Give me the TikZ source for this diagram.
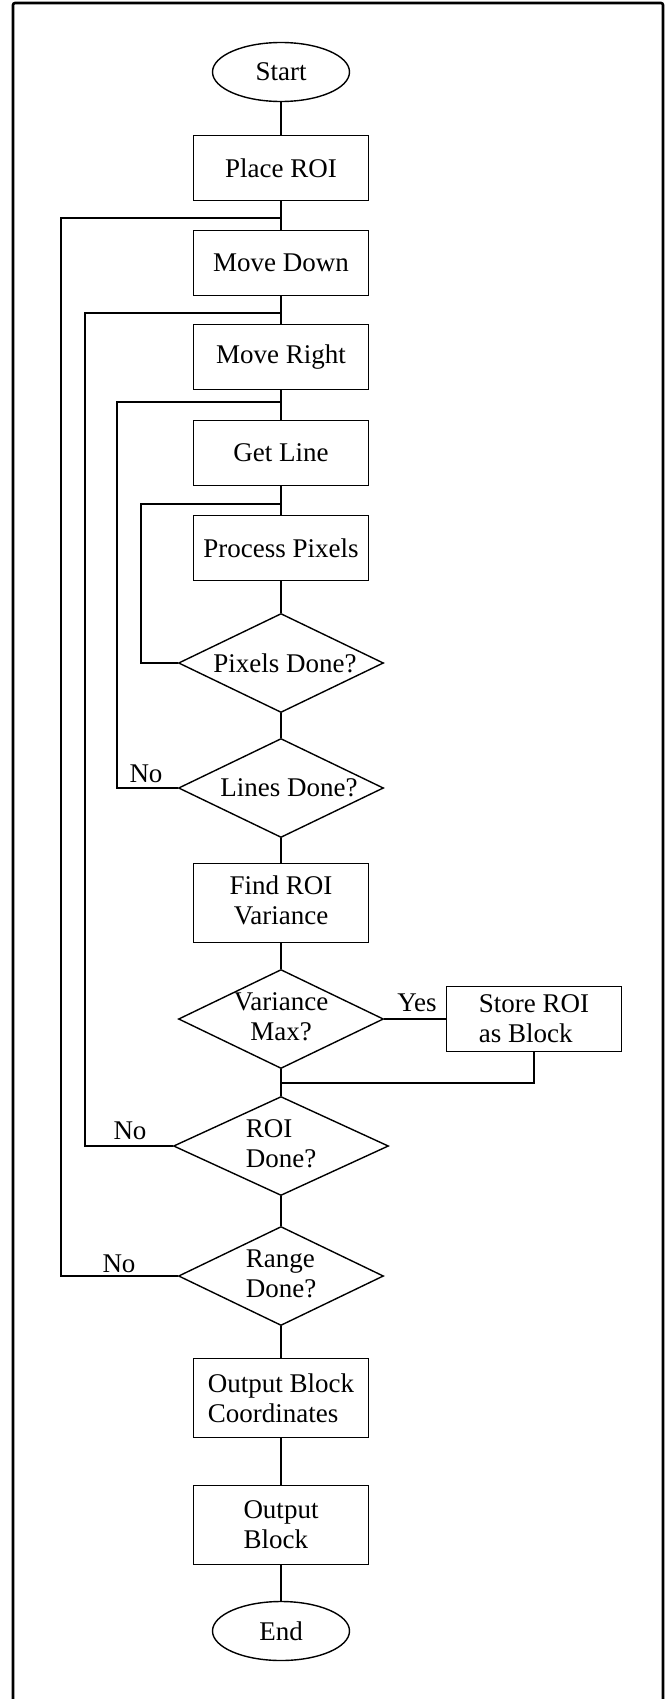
\documentclass[tikz,border=0pt]{standalone}
\usepackage{fontspec}
\setmainfont{Liberation Serif}
\usetikzlibrary{shapes.geometric}
\begin{document}
\begin{tikzpicture}[x=1pt,y=-1pt,
  every node/.style={font=\fontsize{27}{30}\selectfont, inner sep=0pt},
  proc/.style={draw, line width=1.4pt, rectangle, minimum width=175pt, minimum height=65pt, align=left},
  proctall/.style={proc, minimum height=79pt},
  term/.style={draw, line width=1.4pt, ellipse, minimum width=137pt, minimum height=59pt},
  decision/.style={draw, line width=1.4pt, diamond, minimum width=205pt, minimum height=99pt},
  link/.style={line width=1.3pt},
  frameline/.style={line width=2.6pt, rounded corners=2pt}
]
\useasboundingbox (0,0) rectangle (670,1699);

% outer frame, open at the bottom
\draw[frameline] (13,1699) -- (13,3) -- (663,3) -- (663,1699);

% main column
\node[term] (start) at (281,72) {Start};
\node[proc] (place) at (281,168) {Place ROI};
\node[proc] (mdown) at (281,263) {Move Down};
\node[proc] (mright) at (281,357) {Move Right};
\node[proc] (gline) at (281,453) {Get Line};
\node[proc] (ppix) at (281,548) {Process Pixels};
\node[decision] (pdone) at (281,663) {\makebox[0pt]{\hspace{8pt}Pixels Done?}};
\node[decision] (ldone) at (281,788) {\makebox[0pt]{\hspace{16pt}Lines Done?}};
\node[proctall] (fvar) at (281,903) {\begin{tabular}{@{}c@{}}Find ROI\\Variance\end{tabular}};
\node[decision] (vmax) at (281,1019) {\makebox[0pt]{\raisebox{-4pt}{\begin{tabular}{@{}c@{}}Variance\\Max?\end{tabular}}}};
\node[proc] (store) at (534,1019) {Store ROI\\as Block};
\node[decision, minimum width=215pt] (rdone) at (281,1146) {\makebox[0pt]{\begin{tabular}{@{}l@{}}ROI\\Done?\end{tabular}}};
\node[decision] (rgdone) at (281,1276) {\makebox[0pt]{\begin{tabular}{@{}l@{}}Range\\Done?\end{tabular}}};
\node[proctall] (obc) at (281,1398) {Output Block\\Coordinates};
\node[proctall] (ob) at (281,1525) {Output\\Block};
\node[term] (end) at (281,1631) {End};

% straight flow
\draw[link] (start) -- (place);
\draw[link] (place) -- (mdown);
\draw[link] (mdown) -- (mright);
\draw[link] (mright) -- (gline);
\draw[link] (gline) -- (ppix);
\draw[link] (ppix) -- (pdone);
\draw[link] (pdone) -- (ldone);
\draw[link] (ldone) -- (fvar);
\draw[link] (fvar) -- (vmax);
\draw[link] (vmax) -- (rdone);
\draw[link] (rdone) -- (rgdone);
\draw[link] (rgdone) -- (obc);
\draw[link] (obc) -- (ob);
\draw[link] (ob) -- (end);

% junctions on the main column
\coordinate (j1) at (281,218);
\coordinate (j2) at (281,313);
\coordinate (j3) at (281,402);
\coordinate (j4) at (281,504);
\coordinate (j5) at (281,1083);
\coordinate (l1) at (61,218);
\coordinate (l2) at (85,313);
\coordinate (l3) at (117,402);
\coordinate (l4) at (141,504);

% loops back
\draw[link] (rgdone.west) -| (l1) -- (j1);
\draw[link] (rdone.west) -| (l2) -- (j2);
\draw[link] (ldone.west) -| (l3) -- (j3);
\draw[link] (pdone.west) -| (l4) -- (j4);

% store branch
\draw[link] (vmax.east) -- (store.west);
\draw[link] (store.south) |- (j5);

% branch labels
\node (yes) at (417,1003) {Yes};
\node (no1) at (146,774) {No};
\node (no2) at (130,1131) {No};
\node (no3) at (119,1264) {No};
\end{tikzpicture}
\end{document}
